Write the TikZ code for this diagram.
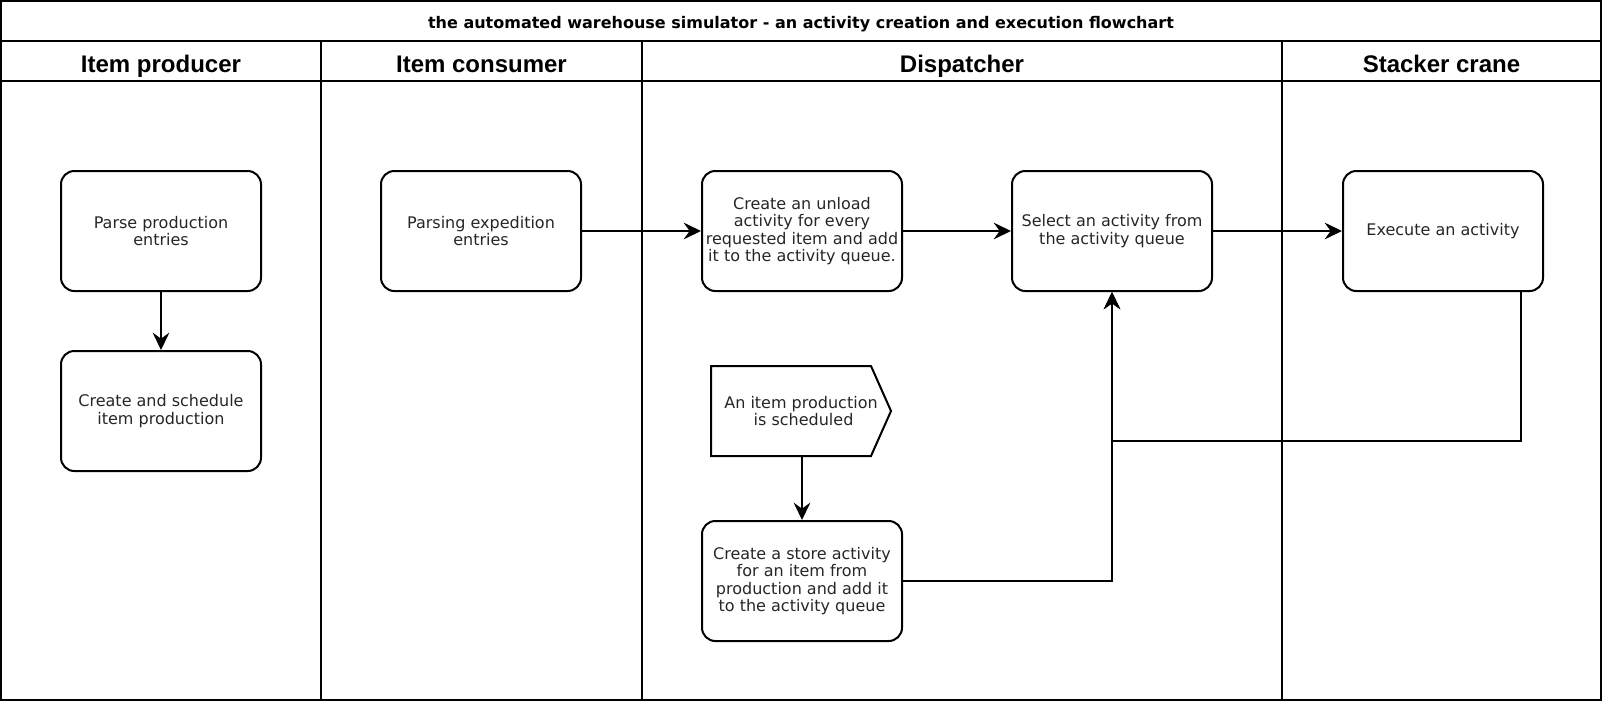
\documentclass[tikz,border=0pt]{standalone}
\usepackage{fontspec}
\setmainfont{DejaVu Sans}
\newfontfamily\lanefont{Liberation Sans}
\usetikzlibrary{arrows.meta,shapes.symbols}

\tikzset{
  task/.style={draw, line width=1.5pt, rounded corners=10pt, minimum width=150pt, minimum height=90pt, inner sep=0pt, align=center, text=black!85, font=\fontsize{12}{13}\selectfont},
  event/.style={signal, signal to=east, signal from=nowhere, signal pointer angle=132, draw, line width=1.5pt, minimum width=135pt, minimum height=67.5pt, inner sep=0pt},
  eventtext/.style={inner sep=0pt, align=center, text=black!85, font=\fontsize{12}{13}\selectfont},
  lanehead/.style={anchor=base, inner sep=0pt, font=\lanefont\bfseries\fontsize{18}{20}\selectfont},
  flow/.style={line width=1.5pt, -{Stealth[length=13pt,width=12.5pt,inset=4.5pt]}},
}

\begin{document}
\begin{tikzpicture}[x=0.75pt,y=0.75pt,yscale=-1]
\useasboundingbox (0,0) rectangle (1604,704);

%Pool and lanes
\draw [line width=1.5pt] (1,1) rectangle (1601,700);
\draw [line width=1.5pt] (1,41) -- (1601,41);
\draw [line width=1.5pt] (1,81) -- (1601,81);
\foreach \lx in {321,642,1282}
  \draw [line width=1.5pt] (\lx,41) -- (\lx,700);

% Text Node
\node (title) at (801,28) [anchor=base, inner sep=0pt, font=\bfseries\fontsize{12}{14}\selectfont] {the automated warehouse simulator - an activity creation and execution flowchart};
\node (producer) at (161,72) [lanehead] {Item producer};
\node (consumer) at (481.5,72) [lanehead] {Item consumer};
\node (dispatcher) at (962,72) [lanehead] {Dispatcher};
\node (crane) at (1441.5,72) [lanehead] {Stacker crane};

%Shapes
\node (parse) at (161,231) [task] {Parse production\\entries};
\node (sched) at (161,411) [task] {Create and schedule\\item production};
\node (expedition) at (481,231) [task] {Parsing expedition\\entries};
\node (unload) at (802,231) [task] {Create an unload\\activity for every\\requested item and add\\it to the activity queue.};
\node (select) at (1112,231) [task] {Select an activity from\\the activity queue};
\node (execute) at (1443,231) [task] {Execute an activity};
\node (produced) at (791,411) [event] {};
\node (producedtext) at (801,411) [eventtext] {An item production\\\ is scheduled};
\node (store) at (802,581) [task] {Create a store activity\\for an item from\\production and add it\\to the activity queue};
\coordinate (back) at (1521,441);

%Connectors
\draw [flow] (parse) -- (sched);
\draw [flow] (expedition) -- (unload);
\draw [flow] (unload) -- (select);
\draw [flow] (select) -- (execute);
\draw [flow] (produced.south -| store) -- (store);
\draw [flow] (store) -| (select);
\draw [flow] (execute.south -| back) -- (back) -| (select);
\end{tikzpicture}
\end{document}
